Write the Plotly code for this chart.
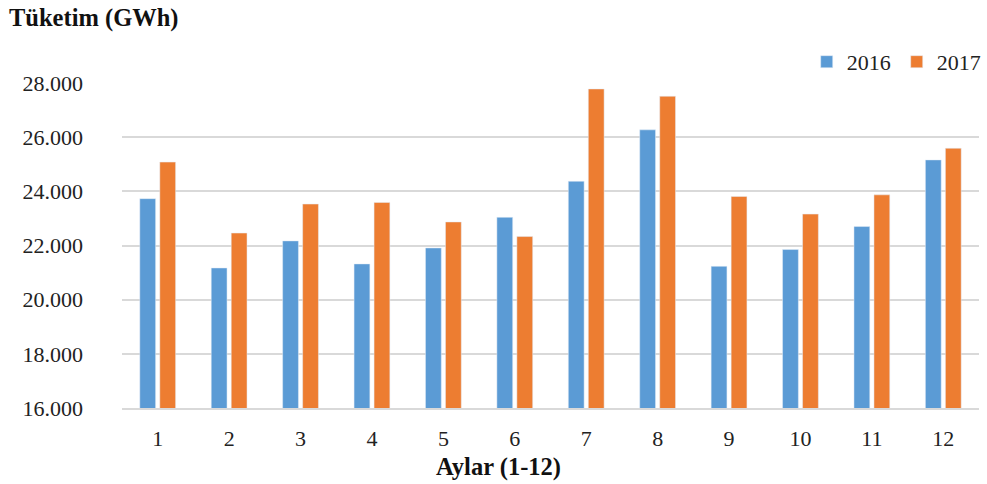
import plotly.graph_objects as go

months = [str(i) for i in range(1, 13)]
series_2016 = [23730, 21170, 22170, 21320, 21910, 23040, 24370, 26270, 21230, 21850, 22700, 25160]
series_2017 = [25080, 22460, 23530, 23590, 22870, 22330, 27780, 27510, 23810, 23160, 23870, 25590]
y_ticks = [16000, 18000, 20000, 22000, 24000, 26000, 28000]

FONT = "Liberation Serif, Times New Roman, serif"

fig = go.Figure()
fig.add_trace(go.Bar(x=months, y=series_2016, name="2016", marker_color="#5B9BD5"))
fig.add_trace(go.Bar(x=months, y=series_2017, name="2017", marker_color="#ED7D31"))

fig.update_layout(
    width=987, height=484,
    margin=dict(l=122, r=8, t=83, b=76, autoexpand=False),
    paper_bgcolor="white", plot_bgcolor="white",
    barmode="group", bargap=0.44, bargroupgap=0.21,
    separators=",.",
    font=dict(family=FONT, size=22, color="#222222"),
    title=dict(text="<b>Tüketim (GWh)</b>", x=9/987, xanchor="left",
               xref="container", yref="container", y=1-17/484, yanchor="middle",
               font=dict(family=FONT, size=24.5, color="#111111")),
    legend=dict(orientation="h", x=1.009, xanchor="right", y=1.065, yanchor="middle",
                font=dict(family=FONT, size=22, color="#222222"),
                itemwidth=30, entrywidth=45, bgcolor="rgba(0,0,0,0)"),
    showlegend=True,
)
fig.update_yaxes(range=[16000, 28000], tickvals=y_ticks, tickformat=",d",
                 showgrid=True, gridcolor="#D9D9D9", gridwidth=1.5,
                 zeroline=False, showline=False, ticks="", ticklabelstandoff=38,
                 tickfont=dict(family=FONT, size=22, color="#222222"))
fig.update_xaxes(showgrid=False, showline=True, linecolor="#D9D9D9", linewidth=1.5,
                 ticks="", ticklabelstandoff=10,
                 tickfont=dict(family=FONT, size=22, color="#222222"))
fig.add_annotation(text="<b>Aylar (1-12)</b>", xref="paper", yref="paper",
                   x=(498-122)/(987-130), y=-(467-408)/325, xanchor="center", yanchor="middle",
                   showarrow=False, font=dict(family=FONT, size=24.5, color="#111111"))

fig.write_html("out.html")
